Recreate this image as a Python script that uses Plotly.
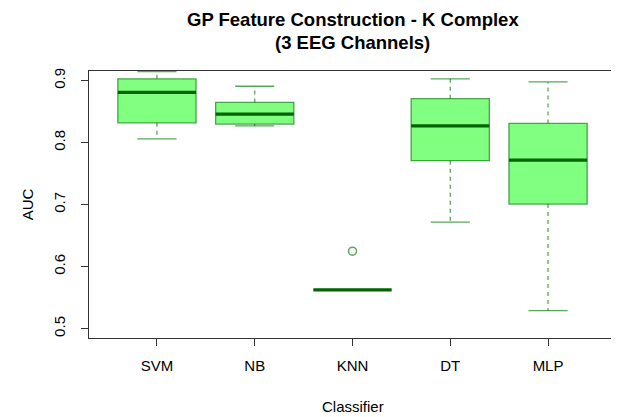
import plotly.graph_objects as go

# per-classifier box statistics (AUC)
classifiers = ["SVM", "NB", "KNN", "DT", "MLP"]
lower_whisker = [0.806, 0.827, 0.5625, 0.672, 0.529]
q1 = [0.832, 0.830, 0.5625, 0.771, 0.701]
median = [0.881, 0.846, 0.5625, 0.827, 0.772]
q3 = [0.903, 0.865, 0.5625, 0.871, 0.831]
upper_whisker = [0.9145, 0.891, 0.5625, 0.903, 0.898]
outlier_class = ["KNN"]
outlier_auc = [0.625]

FILL = "#80ff80"
EDGE = "rgba(0,120,0,0.65)"
DARK = "#006400"
BOX_W = 0.8
CAP_W = 0.4
FONT = "Liberation Sans, Arial, sans-serif"

fig = go.Figure()
pos = {c: i + 1 for i, c in enumerate(classifiers)}

for i, c in enumerate(classifiers):
    x = pos[c]
    # box body (whiskers drawn separately so they can be dashed)
    fig.add_trace(go.Box(
        x=[x], q1=[q1[i]], median=[median[i]], q3=[q3[i]],
        lowerfence=[q1[i]], upperfence=[q3[i]],
        width=BOX_W, fillcolor=FILL,
        line=dict(color=EDGE, width=1.3),
        boxpoints=False, hoverinfo="skip", showlegend=False,
    ))
    # dashed whiskers
    fig.add_trace(go.Scatter(
        x=[x, x, None, x, x],
        y=[q1[i], lower_whisker[i], None, q3[i], upper_whisker[i]],
        mode="lines", line=dict(color=EDGE, width=1.3, dash="4px,4px"),
        hoverinfo="skip", showlegend=False,
    ))
    # whisker caps
    fig.add_trace(go.Scatter(
        x=[x - CAP_W / 2, x + CAP_W / 2, None, x - CAP_W / 2, x + CAP_W / 2],
        y=[lower_whisker[i], lower_whisker[i], None, upper_whisker[i], upper_whisker[i]],
        mode="lines", line=dict(color=EDGE, width=1.3),
        hoverinfo="skip", showlegend=False,
    ))
    # thick median
    fig.add_trace(go.Scatter(
        x=[x - BOX_W / 2, x + BOX_W / 2],
        y=[median[i], median[i]],
        mode="lines", line=dict(color=DARK, width=3.2),
        hoverinfo="skip", showlegend=False,
    ))

fig.add_trace(go.Scatter(
    x=[pos[c] for c in outlier_class], y=outlier_auc,
    mode="markers",
    marker=dict(symbol="circle-open", size=8, color=EDGE, line=dict(width=1.5)),
    showlegend=False,
))


def label(text, x, y, size, angle=0):
    fig.add_annotation(text=text, x=x, y=y, xref="paper", yref="paper",
                       xanchor="center", yanchor="middle", showarrow=False,
                       textangle=angle,
                       font=dict(family=FONT, size=size, color="black"))


# titles as annotations so they sit where R puts them
label("<b>GP Feature Construction - K Complex</b>", 0.5, 1.193, 18.5)
label("<b>(3 EEG Channels)</b>", 0.5, 1.107, 18.5)
label("Classifier", 0.5, -0.258, 15)
label("AUC", -0.116, 0.5, 15, angle=-90)

# page has an 8px body margin, so the figure is 8px smaller than the window
fig.update_layout(
    width=611, height=409,
    margin=dict(l=81, r=3, t=63, b=79),
    plot_bgcolor="white", paper_bgcolor="white",
    font=dict(family=FONT, size=15, color="black"),
    xaxis=dict(
        range=[0.305, 5.695], tickvals=list(pos.values()), ticktext=classifiers,
        showgrid=False, zeroline=False, showline=True, mirror=True,
        linecolor="#333333", linewidth=1.2, automargin=False,
        ticks="outside", ticklen=7, tickcolor="#333333",
        ticklabelstandoff=7,
    ),
    yaxis=dict(
        range=[0.485, 0.9156], tickvals=[0.5, 0.6, 0.7, 0.8, 0.9],
        ticktext=["0.5", "0.6", "0.7", "0.8", "0.9"],
        showgrid=False, zeroline=False, showline=True, mirror=True,
        linecolor="#333333", linewidth=1.2, automargin=False,
        ticks="outside", ticklen=7, tickcolor="#333333",
        tickangle=-90, ticklabelstandoff=10,
    ),
)

fig.write_html("out.html")
